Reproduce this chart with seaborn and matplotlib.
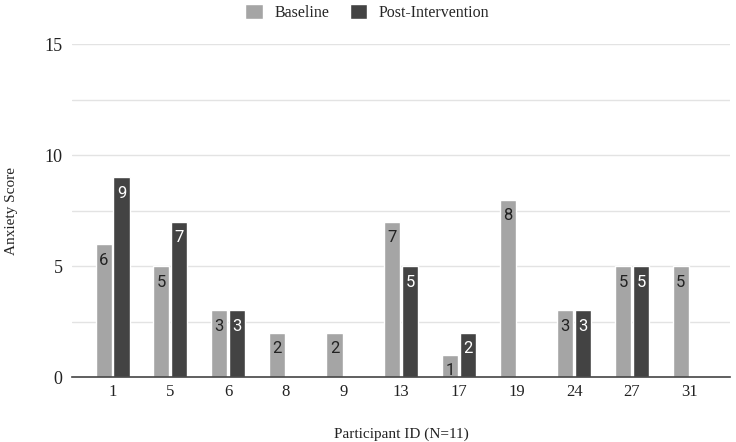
import numpy as np
import pandas as pd
import matplotlib
matplotlib.use("Agg")
import matplotlib.pyplot as plt
import seaborn as sns

# values
participants = ["1", "5", "6", "8", "9", "13", "17", "19", "24", "27", "31"]
baseline = [6, 5, 3, 2, 2, 7, 1, 8, 3, 5, 5]
post_intervention = [9, 7, 3, 0, 0, 5, 2, 0, 3, 5, 0]
series_names = ["Baseline", "Post-Intervention"]
palette = ["#a5a5a5", "#434343"]
y_ticks = [0, 5, 10, 15]

df = pd.DataFrame({
    "Participant": participants * 2,
    "Score": baseline + post_intervention,
    "Group": [series_names[0]] * len(participants) + [series_names[1]] * len(participants),
})

sns.set_theme(style="white")
plt.rcParams["font.family"] = ["Liberation Serif", "DejaVu Serif"]

fig = plt.figure(figsize=(7.36, 4.42), dpi=100)
ax = fig.add_axes([0.098, 0.147, 0.894, 0.753])

sns.barplot(data=df, x="Participant", y="Score", hue="Group", order=participants,
            hue_order=series_names, palette=palette, width=0.62, gap=0.1,
            saturation=1, ax=ax, zorder=3)

# light gridlines every 2.5, labelled ticks every 5
for yv in np.arange(2.5, 15.1, 2.5):
    ax.axhline(yv, color="#e3e3e3", lw=1, zorder=0)
ax.set_ylim(0, 15)
ax.set_yticks(y_ticks)
ax.set_xlim(-0.7, 10.7)
ax.tick_params(axis="both", length=0, colors="#222222")
ax.tick_params(axis="x", pad=5, labelsize=12)
ax.tick_params(axis="y", pad=7, labelsize=13)

for side in ["top", "right", "left"]:
    ax.spines[side].set_visible(False)
ax.spines["bottom"].set_color("#444444")
ax.spines["bottom"].set_linewidth(1.2)
ax.spines["bottom"].set_zorder(4)

ax.set_xlabel("Participant ID (N=11)", fontsize=11, labelpad=20, color="#222222")
ax.set_ylabel("Anxiety Score", fontsize=11, color="#222222")
ax.yaxis.set_label_coords(-0.083, 0.5)

# value labels inside the top of each bar, skip empty bars
text_colors = ["#222222", "white"]
for cont, vals, tc in zip(ax.containers, [baseline, post_intervention], text_colors):
    labels = [str(v) if v > 0 else "" for v in vals]
    ax.bar_label(cont, labels=labels, padding=-17, color=tc, fontsize=12,
                 family=["Roboto", "DejaVu Sans"], zorder=5)

sns.move_legend(ax, "center", bbox_to_anchor=(0.499, 0.972),
                bbox_transform=fig.transFigure, ncol=2, frameon=False,
                title=None, fontsize=11.5, handlelength=1.1, handleheight=1.1,
                columnspacing=1.3, handletextpad=0.7)

fig.savefig("out.png", dpi=100)
